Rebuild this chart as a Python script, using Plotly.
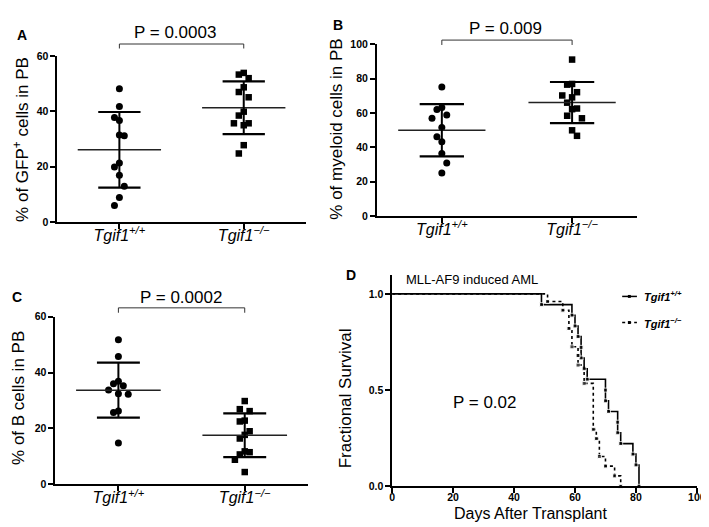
import plotly.graph_objects as go

# ---------------- data ----------------
categories = ["<i>Tgif1<sup>+/+</sup></i>", "<i>Tgif1<sup>\u2212/\u2212</sup></i>"]

gfp_wt = [48.2, 41.8, 37.8, 36.7, 31.2, 31.5, 21.4, 19.9, 16.9, 13.0, 8.9, 6.0]
gfp_ko = [53.9, 53.3, 52.0, 48.7, 47.0, 45.1, 39.9, 38.5, 35.7, 35.7, 35.0, 27.8, 24.8]

myeloid_wt = [75.1, 63.2, 62.0, 58.8, 56.9, 51.6, 46.1, 43.3, 36.4, 30.9, 25.0]
myeloid_ko = [91.1, 76.5, 76.9, 72.1, 70.2, 69.1, 66.0, 62.6, 62.2, 58.4, 56.9, 49.9, 46.7]

bcell_wt = [51.7, 45.7, 36.9, 36.0, 35.3, 33.8, 32.2, 32.4, 26.2, 25.7, 14.8]
bcell_ko = [29.8, 26.9, 26.2, 22.8, 22.5, 19.0, 17.7, 16.4, 11.8, 11.5, 10.7, 8.8, 4.4]

km_wt_days = [0, 49, 59, 60, 61, 62, 62, 63, 64, 70, 70, 71, 74, 74, 75, 79, 80, 81]
km_wt_surv = [1.0, 0.944, 0.889, 0.833, 0.778, 0.722, 0.667, 0.611, 0.556,
              0.500, 0.444, 0.389, 0.333, 0.278, 0.222, 0.167, 0.111, 0.0]
km_ko_days = [0, 51, 56, 58, 59, 61, 61, 63, 66, 67, 68, 70, 73, 75]
km_ko_surv = [1.0, 0.96, 0.915, 0.82, 0.725, 0.68, 0.63, 0.535, 0.296, 0.248,
              0.155, 0.105, 0.054, 0.0]

p_labels = ["P = 0.0003", "P = 0.009", "P = 0.0002", "P = 0.02"]
y_titles = ["% of GFP<sup>+</sup> cells in PB", "% of myeloid cells in PB",
            "% of B cells in PB", "Fractional Survival"]
panel_letters = ["A", "B", "C", "D"]
y_ranges = [(0, 60), (0, 100), (0, 60)]
y_ticks = [[0, 20, 40, 60], [0, 20, 40, 60, 80, 100], [0, 20, 40, 60]]
km_xticks = [0, 20, 40, 60, 80, 100]
km_yticks = [0.0, 0.5, 1.0]

# ---------------- layout helpers ----------------
W, H = 709, 527
FONT = "Arial, Liberation Sans, sans-serif"


def fx(px):
    return px / W


def fy(py):
    return 1 - py / H


# pixel boxes of the plot areas: (left, right, bottom, top)
boxes = {
    "A": (47, 300, 213, 43),
    "B": (372, 637, 206.7, 31),
    "C": (45, 302, 481.3, 309.7),
    "D": (387.7, 697.7, 483.3, 266.7),
}
XR = (-0.5, 1.5)


def swarm(vals, upx_y, upx_x, col=5.0, V=12.0):
    order = sorted(range(len(vals)), key=lambda i: -vals[i])
    cols = {}
    offs = [0.0] * len(vals)
    for i in order:
        y = vals[i] * upx_y
        for k in range(0, 8):
            cands = [0] if k == 0 else [-k, k]
            ok = []
            for c in cands:
                ys = cols.get(c, [])
                d = min([abs(y - yy) for yy in ys], default=1e9)
                if d >= V:
                    ok.append((d, c))
            if ok:
                ok.sort(key=lambda t: (-t[0], t[1]))
                c = ok[0][1]
                cols.setdefault(c, []).append(y)
                offs[i] = c * col / upx_x
                break
    return offs


def mean_sd(v):
    m = sum(v) / len(v)
    s = (sum((a - m) ** 2 for a in v) / (len(v) - 1)) ** 0.5
    return m, s


def bold(vals, fmt="{:g}"):
    return ["<b>" + fmt.format(v) + "</b>" for v in vals]


fig = go.Figure()
shapes = []
annotations = []

scatter_sets = [
    ("A", gfp_wt, gfp_ko),
    ("B", myeloid_wt, myeloid_ko),
    ("C", bcell_wt, bcell_ko),
]

axis_common = dict(showline=True, linecolor="black", linewidth=1.5,
                   ticks="outside", ticklen=5, tickwidth=1.5, tickcolor="black",
                   showgrid=False, zeroline=False, fixedrange=True,
                   ticklabeloverflow="allow")

layout_axes = {}
for idx, (key, wt, ko) in enumerate(scatter_sets):
    n = idx + 1
    xa = "x" if n == 1 else f"x{n}"
    ya = "y" if n == 1 else f"y{n}"
    l, r, b, t = boxes[key]
    ymin, ymax = y_ranges[idx]
    upx_y = (b - t) / (ymax - ymin)
    upx_x = (r - l) / (XR[1] - XR[0])

    for ci, (vals, sym, sz) in enumerate([(wt, "circle", 7), (ko, "square", 6.5)]):
        offs = swarm(vals, upx_y, upx_x)
        fig.add_trace(go.Scatter(
            x=[ci + o for o in offs], y=vals, mode="markers",
            marker=dict(symbol=sym, size=sz, color="black", line=dict(width=0)),
            xaxis=xa, yaxis=ya, showlegend=False, cliponaxis=False))
        m, s = mean_sd(vals)
        shapes.append(dict(type="line", xref=xa, yref=ya, x0=ci - 0.335, x1=ci + 0.335,
                           y0=m, y1=m, line=dict(color="#222", width=1.5)))
        for yy in (m - s, m + s):
            shapes.append(dict(type="line", xref=xa, yref=ya, x0=ci - 0.17, x1=ci + 0.17,
                               y0=yy, y1=yy, line=dict(color="black", width=2.2)))
        shapes.append(dict(type="line", xref=xa, yref=ya, x0=ci, x1=ci,
                           y0=m - s, y1=m + s, line=dict(color="black", width=2)))

    layout_axes["xaxis" if n == 1 else f"xaxis{n}"] = dict(
        domain=[fx(l), fx(r)], range=list(XR), anchor=ya,
        tickvals=[0, 1], ticktext=categories, ticklabelstandoff=-7,
        tickfont=dict(family=FONT, size=16, color="black"), **axis_common)
    layout_axes["yaxis" if n == 1 else f"yaxis{n}"] = dict(
        domain=[fy(b), fy(t)], range=[ymin, ymax], anchor=xa,
        tickvals=y_ticks[idx], ticktext=bold(y_ticks[idx]),
        tickfont=dict(family=FONT, size=10.5, color="black"), **axis_common)

# brackets + P-values for A-C
bracket_px = {"A": (30.7, 35.3), "B": (26.7, 31.7), "C": (300.7, 305.7)}
p_pos = {"A": (167, 19), "B": (503, 15), "C": (173, 290), "D": (482, 398)}
for idx, key in enumerate(["A", "B", "C"]):
    n = idx + 1
    xa = "x" if n == 1 else f"x{n}"
    ytop, ybot = bracket_px[key]
    path_pts = [(0, ybot), (0, ytop), (1, ytop), (1, ybot)]
    for (x0, y0), (x1, y1) in zip(path_pts[:-1], path_pts[1:]):
        shapes.append(dict(type="line", xref=xa, yref="paper", x0=x0, x1=x1,
                           y0=fy(y0), y1=fy(y1), line=dict(color="#333", width=1)))

for i, key in enumerate(["A", "B", "C", "D"]):
    px_, py_ = p_pos[key]
    annotations.append(dict(text=p_labels[i], x=fx(px_), y=fy(py_), xref="paper", yref="paper",
                            showarrow=False, xanchor="center", yanchor="middle",
                            font=dict(family=FONT, size=17, color="black")))

# ---------------- Kaplan-Meier panel D ----------------
for days, surv, dash in [(km_wt_days, km_wt_surv, "solid"), (km_ko_days, km_ko_surv, "dot")]:
    fig.add_trace(go.Scatter(
        x=days, y=surv, mode="lines+markers", line_shape="hv",
        line=dict(color="black", width=1.6, dash=dash),
        marker=dict(symbol="square", size=[0] + [4] * (len(days) - 1), color="black"),
        xaxis="x4", yaxis="y4", showlegend=False, cliponaxis=False))

l, r, b, t = boxes["D"]
layout_axes["xaxis4"] = dict(domain=[fx(l), fx(r)], range=[0, 100], anchor="y4",
                             tickvals=km_xticks, ticktext=bold(km_xticks),
                             ticklabelstandoff=-5,
                             tickfont=dict(family=FONT, size=10.5, color="black"),
                             **axis_common)
layout_axes["yaxis4"] = dict(domain=[fy(b), fy(t)], range=[0, 1.1], anchor="x4",
                             tickvals=km_yticks, ticktext=bold(km_yticks, "{:.1f}"),
                             tickfont=dict(family=FONT, size=10.5, color="black"),
                             **axis_common)

# legend drawn by hand
leg = [("<b><i>Tgif1<sup>+/+</sup></i></b>", 289, "solid"),
       ("<b><i>Tgif1<sup>\u2212/\u2212</sup></i></b>", 315.7, "dot")]
for txt, yy, dash in leg:
    shapes.append(dict(type="line", xref="paper", yref="paper", x0=fx(621.7), x1=fx(636.7),
                       y0=fy(yy), y1=fy(yy), line=dict(color="black", width=1.5, dash=dash)))
    shapes.append(dict(type="rect", xref="paper", yref="paper", x0=fx(627.5), x1=fx(630.5),
                       y0=fy(yy + 1.5), y1=fy(yy - 1.5), line=dict(width=0), fillcolor="black"))
    annotations.append(dict(text=txt, x=fx(641.7), y=fy(yy), xref="paper", yref="paper",
                            showarrow=False, xanchor="left", yanchor="middle",
                            font=dict(family=FONT, size=11, color="black")))

annotations.append(dict(text="MLL-AF9 induced AML", x=fx(400), y=fy(272), xref="paper", yref="paper",
                        showarrow=False, xanchor="left", yanchor="middle",
                        font=dict(family=FONT, size=13, color="black")))
annotations.append(dict(text="Days After Transplant", x=fx(529), y=fy(511), xref="paper", yref="paper",
                        showarrow=False, xanchor="center", yanchor="middle",
                        font=dict(family=FONT, size=16, color="black")))

# y titles
ytitle_pos = [(10, 128), (331, 118), (7, 393), (340, 393)]
for txt, (px_, py_) in zip(y_titles, ytitle_pos):
    annotations.append(dict(text=txt, x=fx(px_), y=fy(py_), xref="paper", yref="paper",
                            showarrow=False, textangle=-90, xanchor="center", yanchor="middle",
                            font=dict(family=FONT, size=17, color="black")))

# panel letters
letter_pos = [(11, 22), (333, 11), (6, 290), (346, 267)]
for txt, (px_, py_) in zip(panel_letters, letter_pos):
    annotations.append(dict(text=f"<b>{txt}</b>", x=fx(px_), y=fy(py_), xref="paper", yref="paper",
                            showarrow=False, xanchor="center", yanchor="middle",
                            font=dict(family=FONT, size=14, color="black")))

fig.update_layout(
    width=W, height=H, margin=dict(l=0, r=0, t=0, b=0),
    paper_bgcolor="white", plot_bgcolor="white",
    shapes=shapes, annotations=annotations, showlegend=False,
    font=dict(family=FONT, color="black"),
    **layout_axes,
)

fig.write_html("out.html", config={"displayModeBar": False})
